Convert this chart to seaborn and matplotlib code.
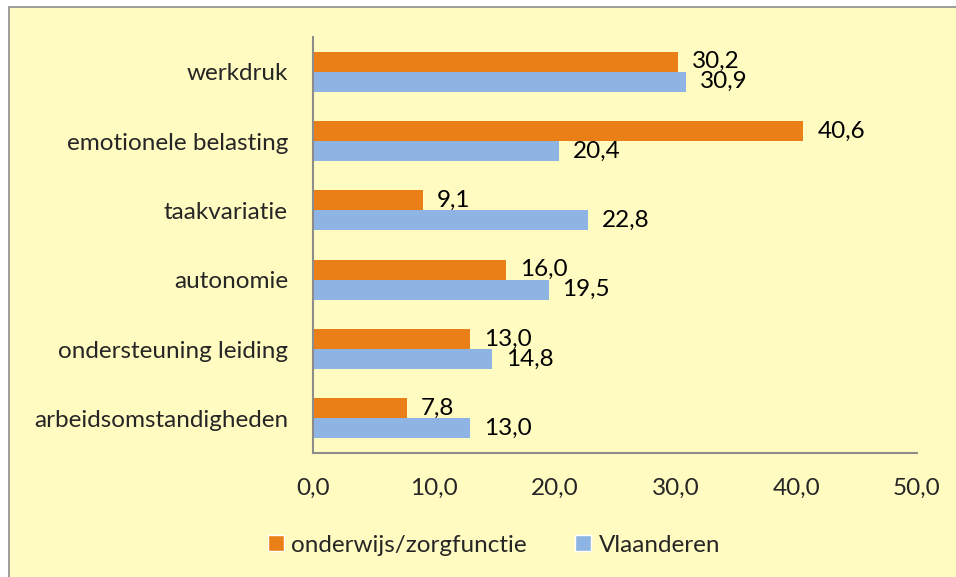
import matplotlib
matplotlib.use("Agg")
import matplotlib.pyplot as plt
import seaborn as sns
import pandas as pd
from matplotlib.patches import Rectangle

categories = ["werkdruk", "emotionele belasting", "taakvariatie", "autonomie",
              "ondersteuning leiding", "arbeidsomstandigheden"]
series_names = ["onderwijs/zorgfunctie", "Vlaanderen"]
onderwijs = [30.2, 40.6, 9.1, 16.0, 13.0, 7.8]
vlaanderen = [30.9, 20.4, 22.8, 19.5, 14.8, 13.0]
x_ticks = [0, 10, 20, 30, 40, 50]

colors = ["#EB7F17", "#8EB4E3"]
bg = "#FFFBC1"
FS = 17.5

df = pd.DataFrame({
    "categorie": categories * 2,
    "reeks": [series_names[0]] * len(categories) + [series_names[1]] * len(categories),
    "waarde": onderwijs + vlaanderen,
})

sns.set_theme(style="white")
plt.rcParams["font.family"] = ["Lato", "DejaVu Sans"]

W, H = 956, 577
fig = plt.figure(figsize=(W / 100, H / 100), dpi=100, facecolor="white")
fig.patches.append(Rectangle((9 / W, -0.1), 1.2, (H - 7) / H + 0.1,
                             transform=fig.transFigure, facecolor=bg,
                             edgecolor="#8C8C8C", linewidth=1.2, zorder=-10))

ax = fig.add_axes([313 / W, 1 - 453 / H, (917 - 313) / W, (453 - 37) / H])
ax.set_facecolor(bg)
ax.patch.set_alpha(0)

sns.barplot(data=df, y="categorie", x="waarde", hue="reeks", orient="h",
            palette=colors, width=0.58, ax=ax, legend=False, saturation=1,
            linewidth=0)

for cont, vals in zip(ax.containers, [onderwijs, vlaanderen]):
    ax.bar_label(cont, labels=[f"{v:.1f}".replace(".", ",") for v in vals],
                 padding=10, fontsize=FS, color="black")

ax.set_xlim(0, 50)
ax.set_ylim(len(categories) - 0.5, -0.5)
ax.set_xticks(x_ticks)
ax.set_xticklabels([f"{v:.1f}".replace(".", ",") for v in x_ticks], fontsize=FS)
ax.set_yticks(range(len(categories)))
ax.set_yticklabels(categories, fontsize=FS)
ax.tick_params(axis="y", which="major", length=0, pad=18)
ax.set_yticks([i - 0.5 for i in range(len(categories) + 1)], minor=True)
ax.tick_params(axis="y", which="minor", length=6, width=1.5, color="#8C8C8C", direction="out")
ax.tick_params(axis="x", which="major", length=6, width=1.5, color="#8C8C8C", direction="out", pad=12)
ax.set_xlabel("")
ax.set_ylabel("")
for s in ["top", "right"]:
    ax.spines[s].set_visible(False)
for s in ["left", "bottom"]:
    ax.spines[s].set_color("#8C8C8C")
    ax.spines[s].set_linewidth(1.5)

handles = [Rectangle((0, 0), 1, 1, facecolor=c) for c in colors]
fig.legend(handles, series_names, loc="center", bbox_to_anchor=(494 / W, 1 - 545 / H),
           ncol=2, frameon=False, fontsize=FS, handlelength=0.65, handleheight=0.65,
           handletextpad=0.3, columnspacing=2.0)

fig.savefig("out.png", dpi=100, facecolor=fig.get_facecolor())
